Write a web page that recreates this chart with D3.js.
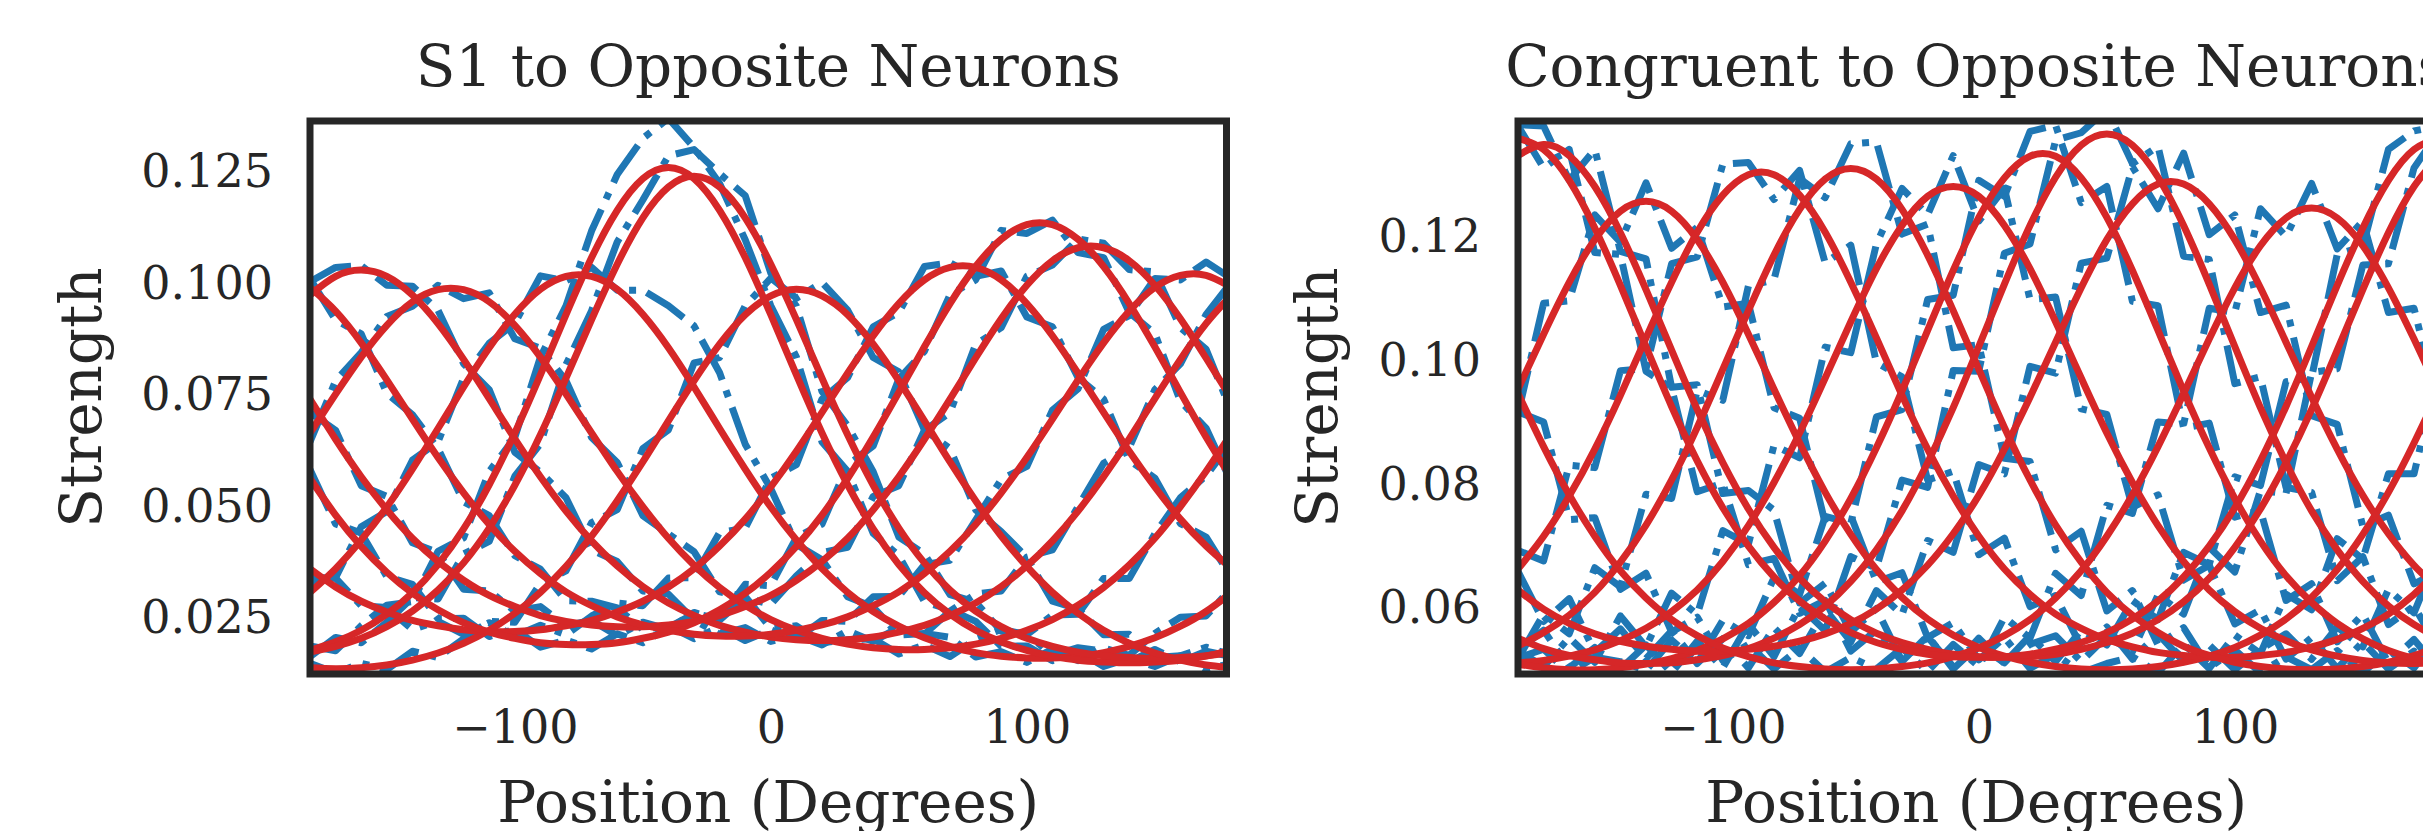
<!DOCTYPE html>
<html><head><meta charset="utf-8">
<script src="https://cdn.jsdelivr.net/npm/d3@7"></script>
<style>html,body{margin:0;padding:0;background:#fff;overflow:hidden}</style>
</head><body>
<script>
// ---- data ----
const positions = [-180,-170,-160,-150,-140,-130,-120,-110,-100,-90,-80,-70,-60,-50,-40,-30,-20,-10,0,10,20,30,40,50,60,70,80,90,100,110,120,130,140,150,160,170,180];
const xTicks = [-100, 0, 100];
const xTickLabels = ["\u2212100", "0", "100"];
const s1YTicks = [0.025, 0.05, 0.075, 0.1, 0.125];
const s1YTickLabels = ["0.025", "0.050", "0.075", "0.100", "0.125"];
const congYTicks = [0.06, 0.08, 0.10, 0.12];
const congYTickLabels = ["0.06", "0.08", "0.10", "0.12"];
const titles = ["S1 to Opposite Neurons", "Congruent to Opposite Neurons"];

// fitted tuning curves (red), S1 -> opposite
const s1Fits = [
 [.0974,.1016,.103,.1016,.0974,.0910,.0830,.0742,.0652,.0567,.0490,.0423,.0367,.0321,.0284,.0256,.0234,.0219,.0208,.0202,.0200,.0202,.0208,.0219,.0234,.0256,.0284,.0321,.0367,.0423,.0490,.0567,.0652,.0742,.0830,.0910,.0974],
 [.0665,.0752,.0835,.0906,.0959,.0986,.0986,.0959,.0906,.0835,.0752,.0665,.0579,.0500,.0429,.0369,.0319,.0279,.0247,.0223,.0205,.0192,.0184,.0180,.0180,.0184,.0192,.0205,.0223,.0247,.0279,.0319,.0369,.0429,.0500,.0579,.0665],
 [.0308,.0361,.0425,.0499,.0584,.0675,.0768,.0856,.0931,.0987,.1016,.1016,.0987,.0931,.0856,.0768,.0675,.0584,.0499,.0425,.0361,.0308,.0265,.0232,.0206,.0187,.0173,.0165,.0161,.0161,.0165,.0173,.0187,.0206,.0232,.0265,.0308],
 [.0178,.0197,.0223,.0259,.0307,.0370,.0450,.0549,.0665,.0795,.0930,.1058,.1164,.1235,.126,.1235,.1164,.1058,.0930,.0795,.0665,.0549,.0450,.0370,.0307,.0259,.0223,.0197,.0178,.0165,.0156,.0152,.0150,.0152,.0156,.0165,.0178],
 [.0174,.0187,.0205,.0231,.0266,.0313,.0374,.0452,.0548,.0661,.0788,.0919,.1043,.1147,.1216,.124,.1216,.1147,.1043,.0919,.0788,.0661,.0548,.0452,.0374,.0313,.0266,.0231,.0205,.0187,.0174,.0166,.0162,.0160,.0162,.0166,.0174],
 [.0139,.0137,.0139,.0145,.0156,.0172,.0194,.0223,.0261,.0308,.0366,.0434,.0513,.0600,.0692,.0782,.0864,.0930,.0972,.0987,.0972,.0930,.0864,.0782,.0692,.0600,.0513,.0434,.0366,.0308,.0261,.0223,.0194,.0172,.0156,.0145,.0139],
 [.0361,.0320,.0288,.0264,.0245,.0233,.0224,.0220,.0220,.0224,.0233,.0245,.0264,.0288,.0320,.0361,.0412,.0472,.0544,.0624,.0711,.0799,.0883,.0955,.1008,.1036,.1036,.1008,.0955,.0883,.0799,.0711,.0624,.0544,.0472,.0412,.0361],
 [.0563,.0481,.0411,.0353,.0306,.0269,.0240,.0219,.0205,.0195,.0191,.0191,.0195,.0205,.0219,.0240,.0269,.0306,.0353,.0411,.0481,.0563,.0656,.0756,.0858,.0955,.1038,.1099,.1132,.1132,.1099,.1038,.0955,.0858,.0756,.0656,.0563],
 [.0741,.0651,.0567,.0493,.0429,.0377,.0335,.0301,.0276,.0256,.0243,.0235,.0231,.0231,.0235,.0243,.0256,.0276,.0301,.0335,.0377,.0429,.0493,.0567,.0651,.0741,.0833,.0921,.0996,.1051,.1080,.1080,.1051,.0996,.0921,.0833,.0741],
 [.0991,.0938,.0867,.0784,.0696,.0610,.0531,.0460,.0400,.0350,.0309,.0278,.0253,.0235,.0223,.0214,.0210,.0210,.0214,.0223,.0235,.0253,.0278,.0309,.0350,.0400,.0460,.0531,.0610,.0696,.0784,.0867,.0938,.0991,.1018,.1018,.0991]
];

// measured (noisy) strengths (blue), S1 -> opposite
const s1Measured = [
 [.1004,.1036,.104,.0996,.0994,.0940,.0820,.0762,.0622,.0577,.0520,.0403,.0377,.0311,.0304,.0246,.0214,.0229,.0198,.0212,.0190,.0222,.0198,.0229,.0214,.0266,.0304,.0311,.0387,.0403,.0500,.0597,.0632,.0762,.0820,.0930,.1004],
 [.0645,.0782,.0845,.0926,.0949,.0996,.0966,.0979,.0876,.0855,.0782,.0655,.0599,.0480,.0439,.0399,.0309,.0299,.0227,.0233,.0195,.0202,.0204,.0170,.0190,.0164,.0202,.0225,.0213,.0257,.0259,.0339,.0339,.0439,.0520,.0569,.0645],
 [.0328,.0341,.0455,.0489,.0604,.0645,.0788,.0866,.0911,.1017,.1006,.1036,.0985,.0985,.0950,.0905,.0800,.0640,.0540,.0415,.0381,.0298,.0275,.0212,.0216,.0207,.0163,.0175,.0151,.0181,.0155,.0183,.0167,.0216,.0252,.0255,.0318],
 [.0188,.0177,.0233,.0279,.0287,.0400,.0430,.0579,.0655,.0835,.0950,.1118,.1244,.1325,.137,.1305,.1224,.1098,.0950,.0835,.0645,.0579,.0440,.0390,.0287,.0269,.0243,.0187,.0188,.0155,.0176,.0142,.0160,.0142,.0166,.0185,.0168],
 [.0164,.0207,.0195,.0241,.0296,.0293,.0394,.0422,.0568,.0641,.0818,.0939,.1093,.1187,.1286,.130,.1246,.1197,.1023,.0949,.0758,.0681,.0578,.0432,.0394,.0303,.0286,.0221,.0215,.0167,.0184,.0176,.0152,.0180,.0152,.0176,.0164],
 [.0149,.0127,.0149,.0135,.0176,.0162,.0204,.0243,.0241,.0328,.0356,.0464,.0493,.0630,.0672,.0822,.0834,.0950,.1012,.0967,.1002,.0940,.0834,.0802,.0672,.0630,.0493,.0444,.0386,.0288,.0271,.0213,.0214,.0162,.0166,.0135,.0149],
 [.0341,.0340,.0278,.0274,.0225,.0243,.0214,.0240,.0210,.0234,.0213,.0255,.0284,.0278,.0340,.0341,.0442,.0452,.0564,.0594,.0741,.0789,.0903,.0935,.1038,.1046,.1016,.1028,.0925,.0903,.0789,.0741,.0604,.0564,.0462,.0432,.0341],
 [.0583,.0461,.0441,.0343,.0326,.0249,.0250,.0209,.0225,.0185,.0201,.0181,.0215,.0195,.0229,.0260,.0249,.0326,.0323,.0431,.0461,.0593,.0636,.0786,.0848,.0975,.1008,.1119,.1112,.1142,.1069,.1058,.0935,.0888,.0736,.0676,.0553],
 [.0711,.0671,.0547,.0523,.0419,.0397,.0315,.0311,.0266,.0276,.0233,.0245,.0211,.0241,.0225,.0263,.0246,.0296,.0281,.0345,.0397,.0409,.0523,.0547,.0671,.0711,.0863,.0901,.1016,.1041,.1100,.1090,.1031,.1026,.0901,.0853,.0711],
 [.1011,.0918,.0887,.0754,.0706,.0630,.0511,.0480,.0390,.0360,.0289,.0288,.0273,.0225,.0233,.0204,.0230,.0200,.0224,.0203,.0245,.0243,.0298,.0299,.0370,.0380,.0470,.0561,.0590,.0716,.0764,.0897,.0928,.1011,.1008,.1048,.1011]
];

// fitted tuning curves (red), congruent -> opposite
const congFits = [
 [.1332,.135,.1332,.1282,.1207,.1115,.1017,.0921,.0835,.0760,.0698,.0648,.0610,.0581,.0559,.0544,.0533,.0525,.0521,.0520,.0521,.0525,.0533,.0544,.0559,.0581,.0610,.0648,.0698,.0760,.0835,.0921,.1017,.1115,.1207,.1282,.1332],
 [.0954,.1043,.1127,.1196,.1242,.1258,.1242,.1196,.1127,.1043,.0954,.0867,.0787,.0719,.0662,.0617,.0582,.0556,.0536,.0522,.0512,.0505,.0501,.0500,.0501,.0505,.0512,.0522,.0536,.0556,.0582,.0617,.0662,.0719,.0787,.0867,.0954],
 [.0663,.0716,.0781,.0857,.0944,.1037,.1127,.1208,.1268,.1301,.1301,.1268,.1208,.1127,.1037,.0944,.0857,.0781,.0716,.0663,.0622,.0590,.0567,.0549,.0537,.0528,.0523,.0520,.0520,.0523,.0528,.0537,.0549,.0567,.0590,.0622,.0663],
 [.0538,.0560,.0588,.0625,.0674,.0734,.0807,.0892,.0986,.1081,.1171,.1245,.1294,.1311,.1294,.1245,.1171,.1081,.0986,.0892,.0807,.0734,.0674,.0625,.0588,.0560,.0538,.0523,.0512,.0505,.0501,.0500,.0501,.0505,.0512,.0523,.0538],
 [.0511,.0515,.0522,.0532,.0547,.0567,.0594,.0629,.0675,.0733,.0803,.0883,.0972,.1063,.1149,.1219,.1266,.1282,.1266,.1219,.1149,.1063,.0972,.0883,.0803,.0733,.0675,.0629,.0594,.0567,.0547,.0532,.0522,.0515,.0511,.0510,.0511],
 [.0509,.0503,.0500,.0500,.0503,.0509,.0518,.0531,.0550,.0575,.0609,.0652,.0708,.0777,.0859,.0951,.1049,.1146,.1232,.1296,.1331,.1331,.1296,.1232,.1146,.1049,.0951,.0859,.0777,.0708,.0652,.0609,.0575,.0550,.0531,.0518,.0509],
 [.0551,.0534,.0523,.0516,.0511,.0510,.0511,.0516,.0523,.0534,.0551,.0573,.0603,.0643,.0694,.0757,.0835,.0924,.1023,.1124,.1219,.1297,.1349,.1367,.1349,.1297,.1219,.1124,.1023,.0924,.0835,.0757,.0694,.0643,.0603,.0573,.0551],
 [.0629,.0598,.0575,.0558,.0546,.0538,.0533,.0530,.0530,.0533,.0538,.0546,.0558,.0575,.0598,.0629,.0669,.0720,.0782,.0857,.0941,.1030,.1118,.1196,.1254,.1286,.1286,.1254,.1196,.1118,.1030,.0941,.0857,.0782,.0720,.0669,.0629],
 [.0947,.0861,.0783,.0716,.0660,.0616,.0581,.0555,.0535,.0521,.0511,.0505,.0501,.0500,.0501,.0505,.0511,.0521,.0535,.0555,.0581,.0616,.0660,.0716,.0783,.0861,.0947,.1035,.1118,.1186,.1231,.1247,.1231,.1186,.1118,.1035,.0947],
 [.136,.1342,.1292,.1215,.1122,.1023,.0926,.0838,.0762,.0700,.0650,.0611,.0582,.0560,.0544,.0533,.0525,.0521,.0520,.0521,.0525,.0533,.0544,.0560,.0582,.0611,.0650,.0700,.0762,.0838,.0926,.1023,.1122,.1215,.1292,.1342,.136]
];

// measured (noisy) strengths (blue), congruent -> opposite
const congMeasured = [
 [.1382,.138,.1292,.1342,.1177,.1165,.0957,.0961,.0785,.0790,.0758,.0608,.0640,.0561,.0599,.0514,.0553,.0505,.0551,.0510,.0541,.0555,.0513,.0554,.0529,.0621,.0590,.0698,.0658,.0790,.0785,.0981,.0987,.1155,.1157,.1312,.1372],
 [.0914,.1093,.1097,.1236,.1192,.1288,.1182,.1216,.1087,.1093,.0924,.0907,.0737,.0749,.0642,.0657,.0552,.0576,.0516,.0552,.0502,.0525,.0495,.0510,.0521,.0495,.0542,.0502,.0556,.0526,.0622,.0597,.0712,.0679,.0817,.0817,.0994],
 [.0693,.0676,.0831,.0827,.0984,.0987,.1157,.1168,.1318,.1321,.1261,.1308,.1158,.1187,.0997,.0974,.0807,.0821,.0686,.0713,.0602,.0620,.0537,.0569,.0517,.0558,.0513,.0540,.0500,.0533,.0558,.0517,.0569,.0537,.0630,.0592,.0693],
 [.0518,.0590,.0558,.0665,.0634,.0784,.0777,.0952,.0936,.1121,.1131,.1295,.1264,.1351,.1354,.1205,.1221,.1021,.1026,.0842,.0837,.0694,.0724,.0595,.0628,.0540,.0568,.0503,.0532,.0495,.0521,.0500,.0531,.0495,.0532,.0503,.0558],
 [.0531,.0505,.0552,.0512,.0587,.0537,.0624,.0589,.0725,.0703,.0863,.0843,.1022,.1013,.1189,.1279,.1236,.1332,.1226,.1279,.1099,.1103,.0922,.0913,.0763,.0783,.0645,.0669,.0574,.0597,.0517,.0552,.0502,.0545,.0501,.0530,.0501],
 [.0519,.0533,.0495,.0520,.0513,.0499,.0548,.0511,.0580,.0555,.0649,.0622,.0748,.0737,.0909,.0921,.1099,.1106,.1292,.1266,.1371,.1381,.1256,.1282,.1096,.1089,.0891,.0899,.0747,.0758,.0612,.0639,.0545,.0590,.0511,.0549,.0499],
 [.0531,.0564,.0503,.0536,.0501,.0540,.0495,.0546,.0503,.0574,.0521,.0603,.0563,.0683,.0664,.0807,.0795,.0984,.0983,.1174,.1189,.1357,.1369,.1407,.1319,.1347,.1169,.1164,.0963,.0974,.0795,.0787,.0644,.0683,.0573,.0603,.0531],
 [.0659,.0578,.0615,.0528,.0566,.0518,.0563,.0510,.0550,.0503,.0568,.0526,.0598,.0545,.0628,.0589,.0709,.0690,.0832,.0817,.0991,.0980,.1158,.1166,.1314,.1246,.1336,.1204,.1236,.1078,.1090,.0911,.0897,.0732,.0750,.0639,.0659],
 [.0917,.0901,.0743,.0746,.0630,.0656,.0561,.0585,.0515,.0541,.0501,.0535,.0496,.0520,.0501,.0535,.0497,.0541,.0505,.0585,.0551,.0656,.0620,.0766,.0753,.0901,.0897,.1085,.1078,.1246,.1201,.1287,.1181,.1226,.1078,.1085,.0917],
 [.138,.1312,.1342,.1175,.1172,.0983,.0956,.0788,.0802,.0670,.0680,.0591,.0612,.0530,.0564,.0513,.0555,.0501,.0540,.0511,.0555,.0513,.0564,.0540,.0612,.0581,.0690,.0670,.0812,.0798,.0966,.0973,.1172,.1185,.1342,.1372,.138]
];

// ---- drawing ----
const W = 2423, H = 831;
const FONT = "'DejaVu Serif', serif";
const INK = "#262626";
const LW = 7;
const svg = d3.select("body").append("svg").attr("width", W).attr("height", H)
  .style("background", "#fff").style("display", "block");

const panels = [
  {title: titles[0], left: 310, right: 1226.5, yDomain: [0.0125, 0.1364], yTicks: s1YTicks, yLabels: s1YTickLabels, fits: s1Fits, measured: s1Measured, ylabX: 101},
  {title: titles[1], left: 1518, right: 2434.5, yDomain: [0.0493, 0.1388], yTicks: congYTicks, yLabels: congYTickLabels, fits: congFits, measured: congMeasured, ylabX: 1337}
];
const plotTop = 121, plotBottom = 674;

panels.forEach((p, pi) => {
  const x = d3.scaleLinear().domain([-180, 178]).range([p.left, p.right]);
  const y = d3.scaleLinear().domain(p.yDomain).range([plotBottom, plotTop]);
  const g = svg.append("g");
  const cid = "clip" + pi;
  svg.append("clipPath").attr("id", cid).append("rect")
    .attr("x", p.left).attr("y", plotTop).attr("width", p.right - p.left).attr("height", plotBottom - plotTop);

  const plot = g.append("g").attr("clip-path", `url(#${cid})`);
  const rough = d3.line().x((d, i) => x(positions[i])).y(d => y(d));
  const smooth = d3.line().x((d, i) => x(positions[i])).y(d => y(d)).curve(d3.curveNatural);

  plot.selectAll("path.meas").data(p.measured).join("path").attr("class", "meas")
    .attr("d", rough).attr("fill", "none").attr("stroke", "#1f77b4").attr("stroke-width", LW)
    .attr("stroke-linejoin", "round")
    .attr("stroke-dasharray", [6.4 * LW, 1.6 * LW, 1.0 * LW, 1.6 * LW].join(","));
  plot.selectAll("path.fit").data(p.fits).join("path").attr("class", "fit")
    .attr("d", smooth).attr("fill", "none").attr("stroke", "#d62728").attr("stroke-width", LW);

  g.append("rect").attr("x", p.left).attr("y", plotTop).attr("width", p.right - p.left).attr("height", plotBottom - plotTop)
    .attr("fill", "none").attr("stroke", INK).attr("stroke-width", LW);

  const xa = g.append("g").attr("transform", `translate(0,${plotBottom})`)
    .call(d3.axisBottom(x).tickValues(xTicks).tickFormat((d, i) => xTickLabels[i]).tickSize(0).tickPadding(36));
  const ya = g.append("g").attr("transform", `translate(${p.left},0)`)
    .call(d3.axisLeft(y).tickValues(p.yTicks).tickFormat((d, i) => p.yLabels[i]).tickSize(0).tickPadding(37));
  [xa, ya].forEach(a => {
    a.select(".domain").remove();
    a.selectAll("text").attr("font-family", FONT).attr("font-size", 46).attr("fill", INK);
  });

  g.append("text").attr("x", (p.left + p.right) / 2).attr("y", 86).attr("text-anchor", "middle")
    .attr("font-family", FONT).attr("font-size", 58).attr("fill", INK).text(p.title);
  g.append("text").attr("x", (p.left + p.right) / 2).attr("y", 822).attr("text-anchor", "middle")
    .attr("font-family", FONT).attr("font-size", 58).attr("fill", INK).text("Position (Degrees)");
  g.append("text").attr("transform", `translate(${p.ylabX},${(plotTop + plotBottom) / 2}) rotate(-90)`).attr("text-anchor", "middle")
    .attr("font-family", FONT).attr("font-size", 58).attr("fill", INK).text("Strength");
});
</script>
</body></html>
